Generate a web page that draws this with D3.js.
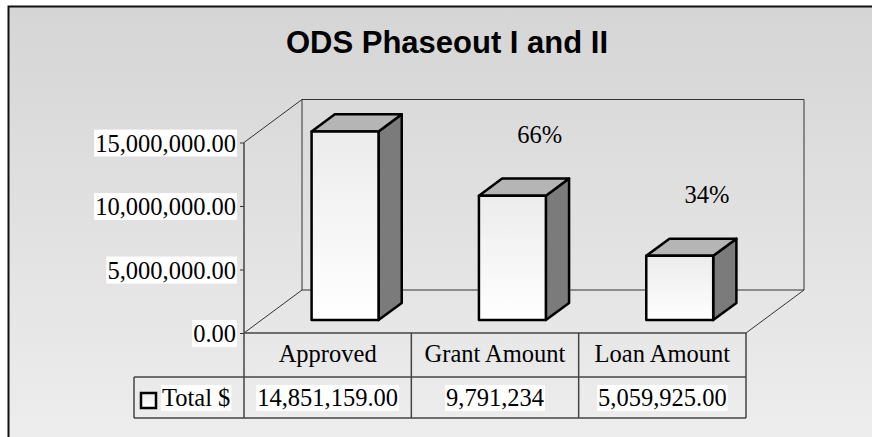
<!DOCTYPE html>
<html>
    <head>
        <style>
            body {
                margin: 0;
                background: #fff;
            }
            svg text {
                font-family: "Liberation Serif", "Times New Roman", serif;
                font-size: 24.5px;
                fill: #000;
            }
            svg .title {
                font-family: "Liberation Sans", Arial, sans-serif;
                font-weight: bold;
                font-size: 31px;
            }
            .wall {
                fill: none;
                stroke: #333;
                stroke-width: 1;
            }
            .grid {
                stroke: #444;
                stroke-width: 1.5;
            }
            .bar path {
                stroke: #000;
                stroke-width: 2.5;
                stroke-linejoin: round;
            }
        </style>
    </head>
    <body>
        <script src='https://d3js.org/d3.v7.min.js'></script>
        <script>
            const categories = ['Approved', 'Grant Amount', 'Loan Amount'];
            const values = [14851159, 9791234, 5059925];
            const cellLabels = ['14,851,159.00', '9,791,234', '5,059,925.00'];
            const tickValues = [0, 5000000, 10000000, 15000000];
            const seriesName = 'Total $';

            const width = 872,
                height = 437;

            // front plane of the 3d box and the depth vector
            const left = 244, right = 746, floorY = 333, topY = 142.5;
            const depthX = 58, depthY = -43;
            const barDepth0 = 0.3, barDepth1 = 0.7;

            const x = d3.scaleBand()
                .domain(categories)
                .range([left, right]);

            const y = d3.scaleLinear()
                .domain([0, 15000000])
                .range([floorY, topY]);

            const proj = (px, py, d) => [px + d * depthX, py + d * depthY];
            const poly = pts => 'M' + pts.map(p => p.join(',')).join('L') + 'Z';
            const pct = d3.format('.0%');

            const svg = d3.select('body').append('svg')
                .attr('width', width)
                .attr('height', height);

            const defs = svg.append('defs');
            const bg = defs.append('linearGradient')
                .attr('id', 'bg').attr('x1', 0).attr('y1', 0).attr('x2', 0).attr('y2', 1);
            bg.append('stop').attr('offset', '0%').attr('stop-color', '#d5d5d5');
            bg.append('stop').attr('offset', '100%').attr('stop-color', '#f1f1f1');

            const front = defs.append('linearGradient')
                .attr('id', 'front').attr('x1', 0).attr('y1', 0).attr('x2', 0).attr('y2', 1);
            front.append('stop').attr('offset', '0%').attr('stop-color', '#ececec');
            front.append('stop').attr('offset', '100%').attr('stop-color', '#ffffff');

            // chart area frame, runs off the right and bottom edges
            svg.append('rect')
                .attr('x', 8.5).attr('y', 6.5)
                .attr('width', 900).attr('height', 500)
                .attr('fill', 'url(#bg)')
                .attr('stroke', '#111')
                .attr('stroke-width', 2);

            svg.append('text')
                .attr('class', 'title')
                .attr('x', 447).attr('y', 53)
                .attr('text-anchor', 'middle')
                .text('ODS Phaseout I and II');

            // walls and floor
            const y0 = y(0), yTop = y(15000000);
            const bl = proj(left, y0, 1), br = proj(right, y0, 1);
            const tl = proj(left, yTop, 1), tr = proj(right, yTop, 1);

            svg.append('path').attr('class', 'wall')
                .attr('d', `M${bl}L${tl}L${tr}L${br}Z`);
            svg.append('path').attr('class', 'wall')
                .attr('d', `M${left},${yTop}L${tl}M${left},${y0}L${bl}M${right},${y0}L${br}`);

            // value axis on the front edge
            const axis = svg.append('g')
                .attr('transform', `translate(${left},0)`)
                .call(d3.axisLeft(y).tickValues(tickValues).tickFormat(d3.format(',.2f')).tickSize(4).tickPadding(4));
            axis.select('.domain').remove();
            axis.selectAll('line').attr('stroke', '#333');
            axis.selectAll('text')
                .attr('fill', '#000')
                .attr('font-family', '"Liberation Serif", serif')
                .attr('font-size', 24.5)
                .attr('dy', '0.35em');
            axis.selectAll('.tick').each(function () {
                const t = d3.select(this).select('text');
                const b = t.node().getBBox();
                d3.select(this).insert('rect', 'text')
                    .attr('x', b.x - 1).attr('y', b.y)
                    .attr('width', b.width + 2).attr('height', b.height)
                    .attr('fill', '#fff');
            });

            // bars
            const bw = x.bandwidth() * 0.4;
            const bars = svg.selectAll('g.bar')
                .data(categories.map((c, i) => ({ c, v: values[i] })))
                .join('g').attr('class', 'bar');

            bars.each(function (d) {
                const g = d3.select(this);
                const x0 = x(d.c) + x.bandwidth() / 2 - bw / 2, x1 = x0 + bw;
                const fl = proj(x0, y(0), barDepth0), fr = proj(x1, y(0), barDepth0);
                const ftl = proj(x0, y(d.v), barDepth0), ftr = proj(x1, y(d.v), barDepth0);
                const btl = proj(x0, y(d.v), barDepth1), btr = proj(x1, y(d.v), barDepth1);
                const bbr = proj(x1, y(0), barDepth1);
                g.append('path').attr('fill', '#7b7b7b').attr('d', poly([fr, ftr, btr, bbr]));
                g.append('path').attr('fill', '#b5b5b5').attr('d', poly([ftl, btl, btr, ftr]));
                g.append('path').attr('fill', 'url(#front)').attr('d', poly([fl, ftl, ftr, fr]));
                d.topX = (btl[0] + btr[0]) / 2;
                d.topY = btl[1];
            });

            // share of approved amount, above grant and loan bars
            bars.filter((d, i) => i > 0)
                .append('text')
                .attr('text-anchor', 'middle')
                .attr('x', d => d.topX + 4)
                .attr('y', d => d.topY - 36)
                .text(d => pct(d.v / values[0]));

            // data table
            const rowTop = floorY, rowMid = 377, rowBot = 418, legendLeft = 134;
            const table = svg.append('g');
            table.append('line').attr('class', 'grid')
                .attr('x1', left).attr('x2', right).attr('y1', rowTop).attr('y2', rowTop);
            table.append('line').attr('class', 'grid')
                .attr('x1', legendLeft).attr('x2', right).attr('y1', rowMid).attr('y2', rowMid);
            table.append('line').attr('class', 'grid')
                .attr('x1', legendLeft).attr('x2', right).attr('y1', rowBot).attr('y2', rowBot);
            table.append('line').attr('class', 'grid')
                .attr('x1', legendLeft).attr('x2', legendLeft).attr('y1', rowMid).attr('y2', rowBot);
            table.append('line').attr('class', 'grid')
                .attr('x1', left).attr('x2', left).attr('y1', yTop).attr('y2', rowBot);
            table.selectAll('line.col')
                .data(categories)
                .join('line').attr('class', 'grid col')
                .attr('x1', d => x(d) + x.bandwidth()).attr('x2', d => x(d) + x.bandwidth())
                .attr('y1', rowTop).attr('y2', rowBot);

            table.selectAll('text.head')
                .data(categories)
                .join('text').attr('class', 'head')
                .attr('text-anchor', 'middle')
                .attr('x', d => x(d) + x.bandwidth() / 2)
                .attr('y', 362)
                .text(d => d);

            const cells = table.selectAll('g.cell')
                .data(cellLabels)
                .join('g').attr('class', 'cell');
            cells.append('rect').attr('fill', '#fff');
            cells.append('text')
                .attr('text-anchor', 'middle')
                .attr('x', (d, i) => x(categories[i]) + x.bandwidth() / 2)
                .attr('y', 406)
                .text(d => d);
            cells.each(function () {
                const b = d3.select(this).select('text').node().getBBox();
                d3.select(this).select('rect')
                    .attr('x', b.x - 1).attr('y', b.y + 1)
                    .attr('width', b.width + 2).attr('height', b.height - 1);
            });

            // legend key
            table.append('rect')
                .attr('x', 141).attr('y', 393)
                .attr('width', 15).attr('height', 15)
                .attr('fill', 'url(#front)')
                .attr('stroke', '#000')
                .attr('stroke-width', 2.5);
            const key = table.append('g');
            key.append('rect').attr('fill', '#fff');
            key.append('text')
                .attr('x', 162).attr('y', 406)
                .text(seriesName);
            const kb = key.select('text').node().getBBox();
            key.select('rect')
                .attr('x', kb.x - 1).attr('y', kb.y + 1)
                .attr('width', kb.width + 2).attr('height', kb.height - 1);
        </script>
    </body>
</html>
